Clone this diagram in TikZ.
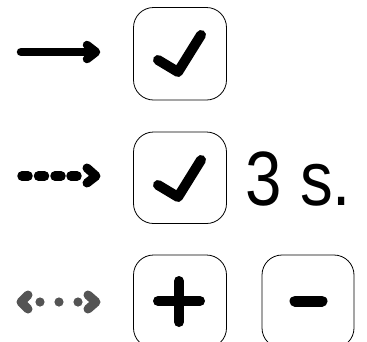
\documentclass[tikz,border=0pt]{standalone}
\usepackage{fontspec}
\setmainfont{Liberation Sans}
\begin{document}
\begin{tikzpicture}[x=1pt,y=-1pt,
  keybox/.style={draw=black,line width=0.8pt,rounded corners=20pt},
  glyph/.style={draw=black,line width=10pt,line cap=round,line join=round},
  arrowline/.style={draw=black,line width=8.5pt,line cap=round,line join=round},
  grayglyph/.style={draw=black!67,line width=9pt,line cap=round,line join=round}]
\useasboundingbox (0,0) rectangle (367,341);
\clip (0,0) rectangle (367,341);
% row 1
\draw[arrowline] (21,52) -- (87,52);
\draw[arrowline] (87,45) -- (96,52) -- (87,59);
\draw[keybox] (133.5,7.5) rectangle (226.5,100);
\draw[glyph] (158,60) -- (178,72) -- (201,35);
% row 2
\foreach \a in {22,38.5,55,71}
  \draw[arrowline,line width=9.5pt] (\a,176) -- (\a+6,176);
\draw[arrowline,line width=9pt] (87,168) -- (96,176) -- (87,183);
\draw[keybox] (133.5,132) rectangle (226.5,223.5);
\draw[glyph] (158,185) -- (178,197) -- (201,160);
\node[anchor=base west,inner sep=0pt] (secs) at (245.5,205)
  {\scalebox{0.85}[1]{\fontsize{77}{77}\selectfont 3 s.}};
% row 3
\draw[grayglyph] (28,295) -- (21,302) -- (28,309);
\fill[black!67] (40,302) circle (4.6) (59,302) circle (4.6) (78,302) circle (4.6);
\draw[grayglyph] (88,295) -- (96,302) -- (88,309);
\draw[keybox] (133.5,255) rectangle (226.5,348);
\draw[keybox] (262,255) rectangle (354,348);
\draw[glyph] (158,301) -- (200,301) (179,281) -- (179,322);
\draw[glyph,line width=11pt] (295,301) -- (322,301);
\end{tikzpicture}
\end{document}
